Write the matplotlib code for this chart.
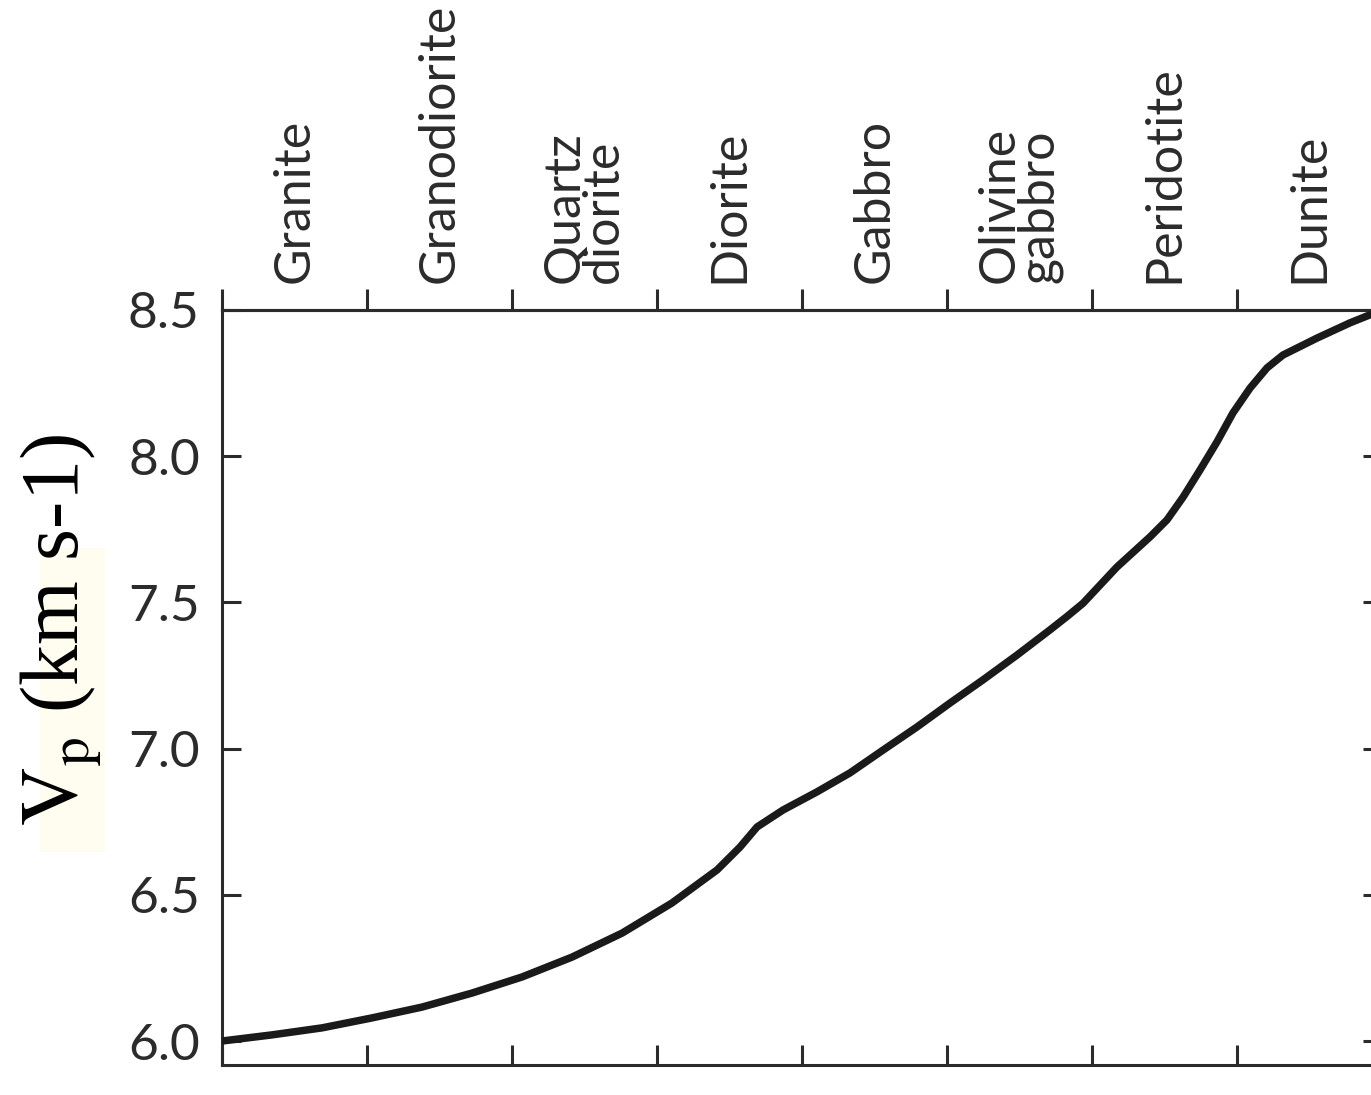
import matplotlib

matplotlib.use("Agg")
import matplotlib.pyplot as plt
from matplotlib.patches import Rectangle

# rock types, left to right (one per interval)
rocks = ["Granite", "Granodiorite", "Quartz\ndiorite", "Diorite", "Gabbro",
         "Olivine\ngabbro", "Peridotite", "Dunite"]

# P-wave velocity along the composition axis (interval units)
comp = [0.0, 0.345, 0.690, 1.034, 1.379, 1.724, 2.069, 2.414, 2.759, 3.103,
        3.290, 3.414, 3.572, 3.690, 3.869, 4.103, 4.331, 4.559, 4.793,
        5.021, 5.248, 5.483, 5.710, 5.828, 5.938, 6.172, 6.400, 6.517,
        6.628, 6.745, 6.862, 6.972, 7.090, 7.207, 7.317, 7.552, 7.779, 8.0]
vp = [6.0, 6.021, 6.045, 6.079, 6.116, 6.164, 6.219, 6.287, 6.369, 6.472,
      6.540, 6.585, 6.663, 6.732, 6.790, 6.852, 6.917, 6.995, 7.074,
      7.156, 7.235, 7.320, 7.406, 7.452, 7.497, 7.621, 7.724, 7.782,
      7.860, 7.953, 8.049, 8.148, 8.233, 8.302, 8.346, 8.404, 8.456, 8.5]

yticks = [6.0, 6.5, 7.0, 7.5, 8.0, 8.5]

INK = "#2b2b2b"
SANS = "Lato"
plt.rcParams["mathtext.fontset"] = "stix"

fig = plt.figure(figsize=(13.71, 10.95), dpi=100)
fig.patch.set_facecolor("white")
ax = fig.add_axes([0.16193, 0.02740, 0.84610, 0.68950])

ax.plot(comp, vp, color="#1a1a1a", lw=5.4, solid_capstyle="butt",
        solid_joinstyle="round", zorder=3)

ax.set_xlim(0, 8)
ax.set_ylim(5.918, 8.5)

for sp in ax.spines.values():
    sp.set_linewidth(2.2)
    sp.set_color(INK)

bounds = list(range(len(rocks) + 1))
ax.set_xticks(bounds)
ax.set_xticklabels([])
ax.tick_params(axis="x", which="major", bottom=True, top=False,
               direction="in", length=14.5, width=2.2, color=INK)

ax.set_yticks(yticks)
ax.set_yticklabels([f"{v:.1f}" for v in yticks])
ax.tick_params(axis="y", left=True, right=True, direction="in",
               length=13.5, width=2.2, color=INK, pad=16,
               labelsize=37, labelcolor=INK)
for lab in ax.get_yticklabels():
    lab.set_fontfamily(SANS)

# rock names on top, centred in each interval
top = ax.secondary_xaxis("top")
top.spines["top"].set_linewidth(2.2)
top.spines["top"].set_color(INK)
top.set_xticks(bounds)
top.set_xticklabels([])
top.tick_params(axis="x", which="major", direction="out", length=15,
                width=2.2, color=INK)
top.set_xticks([b + 0.5 for b in bounds[:-1]], minor=True)
top.set_xticklabels(rocks, minor=True, rotation=90, fontsize=36,
                    fontfamily=SANS, color=INK,
                    va="bottom", ha="center", multialignment="left",
                    linespacing=0.82)
top.tick_params(axis="x", which="minor", length=0, pad=19.5)

# pale highlight behind the axis title
fig.patches.append(Rectangle((0.02918, 0.2219), 0.0474, 0.2776,
                             transform=fig.transFigure, facecolor="#fffdf0",
                             edgecolor="none", zorder=0))
fig.text(0.044, 0.4247, r"$\mathrm{V_p}$ (km s-1)", rotation=90,
         ha="center", va="center", fontsize=59,
         fontfamily="Liberation Serif", color="black", zorder=2)

fig.savefig("out.png", dpi=100)
